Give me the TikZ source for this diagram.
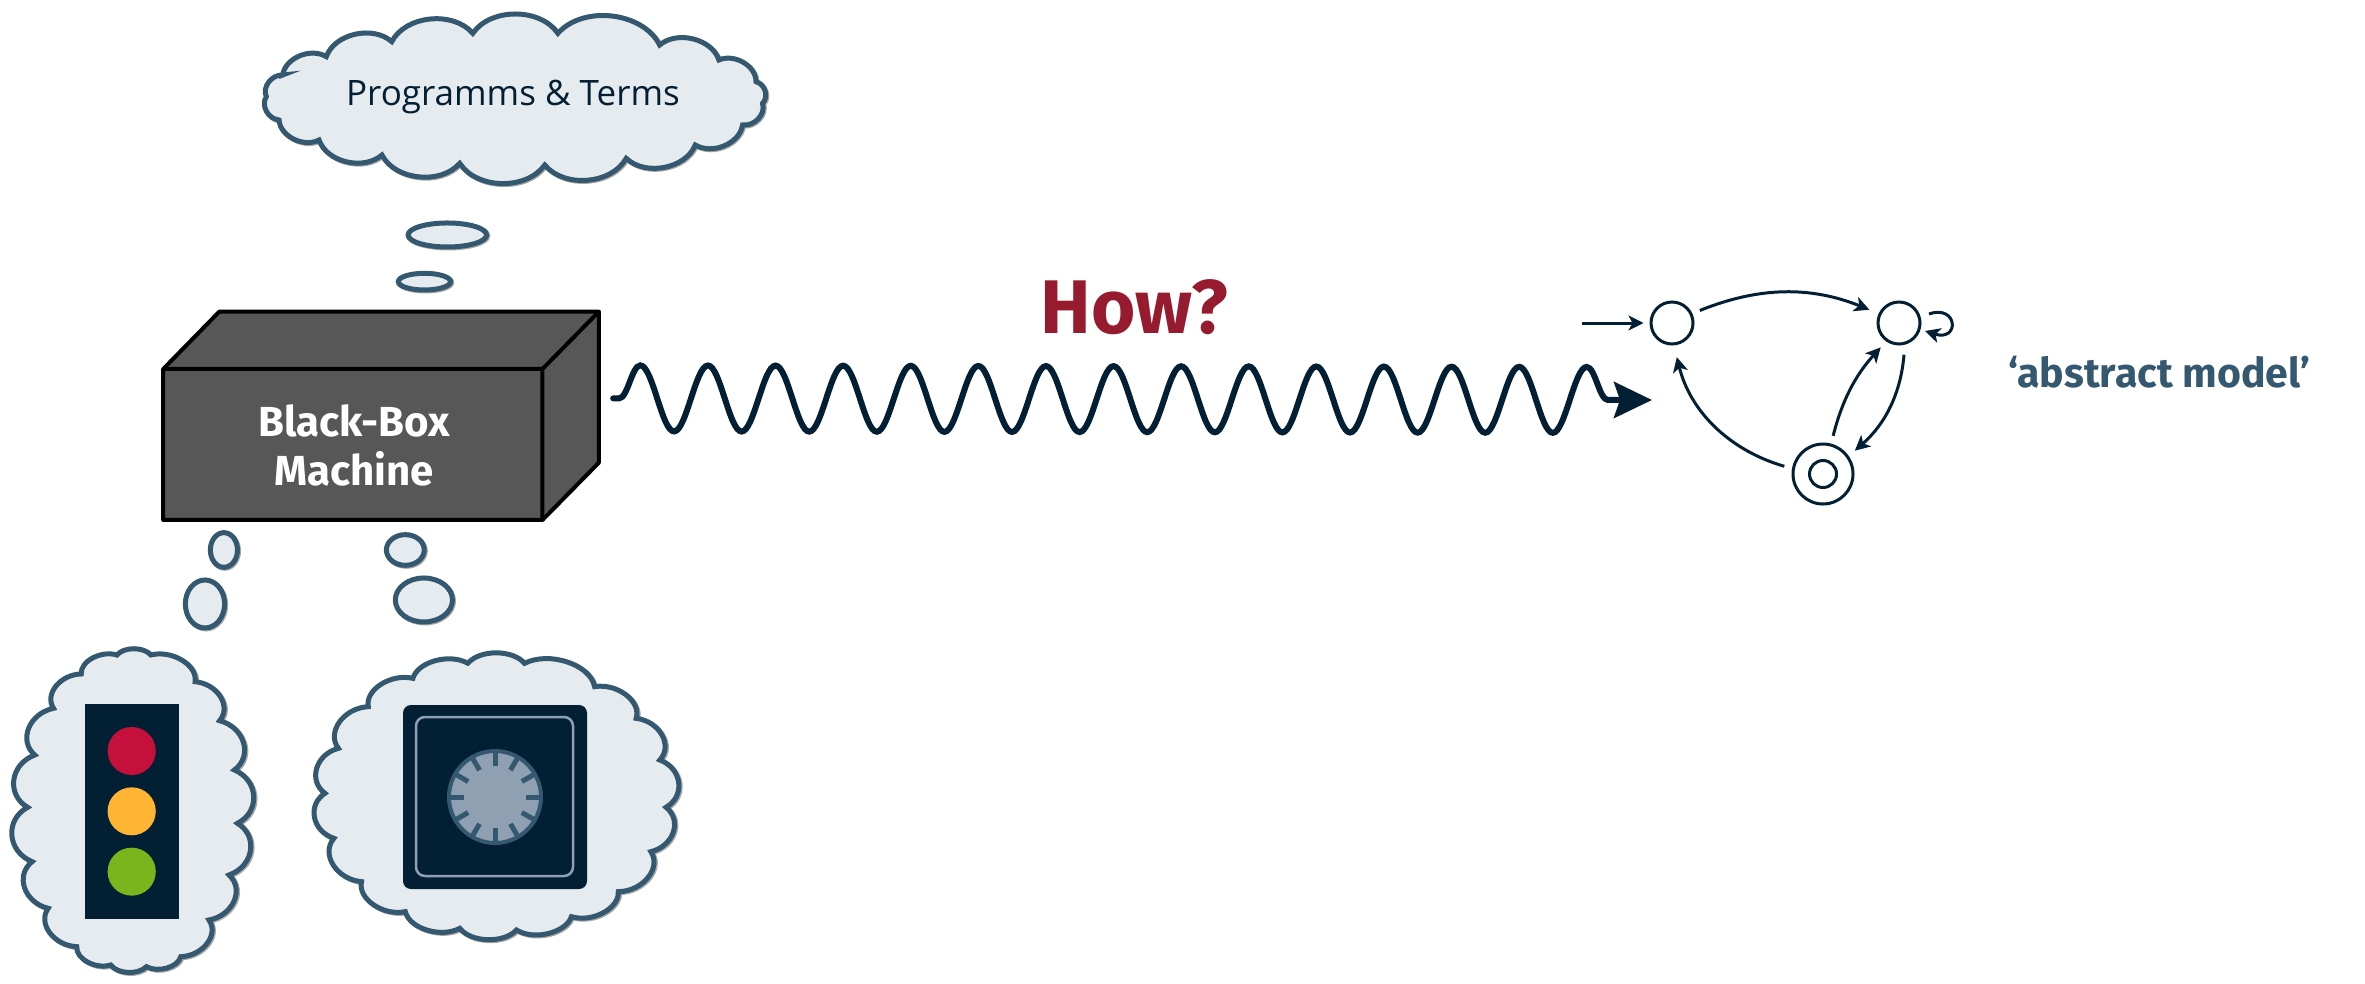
\documentclass[tikz,border=0pt]{standalone}
\usepackage{fontspec}
\setmainfont{Open Sans}
\newfontfamily\boldfam{Fira Sans}
\usetikzlibrary{arrows.meta,decorations.pathmorphing,shapes.geometric,calc}
\definecolor{cfill}{HTML}{E6EBF0}
\definecolor{cline}{HTML}{33586F}
\definecolor{cdark}{HTML}{031F33}
\definecolor{cbox}{HTML}{575757}
\definecolor{cred}{HTML}{C4103A}
\definecolor{corange}{HTML}{FFB433}
\definecolor{cgreen}{HTML}{7AB51D}
\definecolor{cdial}{HTML}{8EA0B2}
\definecolor{chow}{HTML}{971B2F}
\definecolor{cshadow}{HTML}{A8A8A8}
\newcommand{\shadowed}[2]{%
  \begin{scope}[shift={(3,3)}]\fill[cshadow,line width=5pt,draw=cshadow] #2;\end{scope}
  \draw[cloudline,#1] #2;}
\tikzset{
  cloudline/.style={draw=cline,fill=cfill,line width=5pt,line join=miter},
  c/.style={bend left=#1},
  boxline/.style={draw=black,fill=cbox,line width=4pt,line join=round},
  stateN/.style={circle,draw=cdark,line width=3pt,minimum size=42pt,inner sep=0pt},
  autarrow/.style={draw=cdark,line width=3pt,-{Stealth[length=15pt,width=15pt,inset=4pt]}},
  dialtick/.style={draw=cline,line width=5pt},
}
\begin{document}
\begin{tikzpicture}[x=1pt,y=-1pt]
\useasboundingbox (0,0) rectangle (2365,983);
% top cloud
\begin{scope}[shift={(230,0)},xscale=0.3635,yscale=0.3333]
\def\pth{(145,225) to[c=58] (265,170) to[c=58] (445,125) to[c=58] (668,100) to[c=58] (902,100) to[c=58] (1182,135) to[c=58] (1345,180) to[c=58] (1447,245) to[c=58] (1465,310) to[c=58] (1410,375) to[c=58] (1280,435) to[c=58] (1090,475) to[c=58] (866,495) to[c=58] (632,490) to[c=58] (418,465) to[c=58] (245,420) to[c=58] (135,360) to[c=58] (100,290) to[c=58] cycle}
\shadowed{}{\pth}
\shadowed{}{(598,705) ellipse [x radius=108,y radius=36]}
\shadowed{}{(535,845) ellipse [x radius=72,y radius=25]}
\end{scope}
\node[text=cdark,font=\fontsize{35}{35}\selectfont] (prog) at (513,97) {Programms \& Terms};
% bubbles and box
\begin{scope}[shift={(140,290)},xscale=0.3571,yscale=0.3333]
\shadowed{}{(235,780) ellipse [x radius=38,y radius=52]}
\shadowed{}{(182,942) ellipse [x radius=55,y radius=72]}
\shadowed{}{(743,780) ellipse [x radius=53,y radius=46]}
\shadowed{}{(795,930) ellipse [x radius=80,y radius=66]}
\draw[boxline] (65,237) -- (222,65) -- (1285,65) -- (1285,518) -- (1127,690) -- (65,690) -- cycle;
\draw[boxline,fill=none] (65,237) -- (1127,237) -- (1285,65) (1127,237) -- (1127,690);
\coordinate (wstart) at (1325,325);
\end{scope}
\node[text=white,align=center,font=\boldfam\bfseries\fontsize{42}{49}\selectfont] (bb) at (354,445) {Black-Box\\Machine};
% traffic-light cloud
\begin{scope}[shift={(0,600)},xscale=0.4464,yscale=0.3333]
\def\pth{(262,165) to[c=58] (338,165) to[c=58] (437,245) to[c=58] (492,362) to[c=58] (525,510) to[c=58] (532,670) to[c=58] (513,825) to[c=58] (468,960) to[c=58] (405,1070) to[c=58] (328,1100) to[c=58] (248,1095) to[c=58] (172,1040) to[c=58] (108,925) to[c=58] (72,785) to[c=58] (62,622) to[c=58] (78,465) to[c=58] (120,325) to[c=58] (182,222) to[c=58] cycle}
\shadowed{}{\pth}
\fill[cdark] (190,312) rectangle (400,957);
\fill[cred] (295,453) ellipse [x radius=54,y radius=72];
\fill[corange] (295,634) ellipse [x radius=54,y radius=72];
\fill[cgreen] (295,815) ellipse [x radius=54,y radius=72];
\end{scope}
% safe cloud
\begin{scope}[shift={(0,600)},xscale=0.4464,yscale=0.3333]
\def\pth{(1048,190) to[c=58] (1175,190) to[c=58] (1332,260) to[c=58] (1425,355) to[c=58] (1478,480) to[c=58] (1492,622) to[c=58] (1458,755) to[c=58] (1385,875) to[c=58] (1280,950) to[c=58] (1157,990) to[c=58] (1030,985) to[c=58] (908,935) to[c=58] (810,845) to[c=58] (748,715) to[c=58] (728,580) to[c=58] (758,445) to[c=58] (825,320) to[c=58] (925,235) to[c=58] cycle}
\shadowed{}{\pth}
\end{scope}
\fill[cdark,rounded corners=8pt] (403,705) rectangle (587,889);
\draw[draw=cdial,line width=2.5pt,rounded corners=9pt] (416,717) rectangle (573,876);
\draw[draw=cline,fill=cdial,line width=4pt] (495,797) circle [radius=46];
\foreach \a in {0,30,...,330}{\draw[dialtick] ($(495,797)+(\a:31)$) -- ($(495,797)+(\a:46)$);}
% wave
\coordinate (wend) at (1652,400);
\draw[cdark,line width=6pt,line cap=round,-{Stealth[length=38pt,width=36pt,inset=6pt]},decorate,decoration={snake,segment length=67.6pt,amplitude=33pt,pre length=6pt,post length=38pt}] (wstart) -- (wend);
\node[text=chow,font=\boldfam\bfseries\fontsize{76}{76}\selectfont] (how) at (1134,307) {How?};
% automaton
\node[stateN] (q0) at (1672,323) {};
\node[stateN] (q1) at (1899,323) {};
\node[circle,draw=cdark,line width=3pt,minimum size=60pt,inner sep=0pt] (q2) at (1823,474) {};
\node[circle,draw=cdark,line width=3pt,minimum size=27pt,inner sep=0pt] (q2i) at (q2) {};
\coordinate (init) at (1582,323);
\draw[autarrow,shorten >=6pt] (init) -- (q0.west);
\draw[autarrow,shorten <=8pt,shorten >=10pt] (q0.25) to[bend left=22] (q1.155);
\draw[autarrow,shorten <=10pt,shorten >=8pt] (q1.-75) to[bend left=22] (q2.35);
\draw[autarrow,shorten <=8pt,shorten >=8pt] (q2.75) to[bend left=14] (q1.-125);
\draw[autarrow,shorten <=8pt,shorten >=12pt] (q2.170) to[bend left=30] (q0.-85);
\coordinate (ls) at (1929,314);
\coordinate (le) at (1925,331);
\draw[autarrow] (ls) .. controls (1958,304) and (1960,342) .. (le);
\node[text=cline,font=\boldfam\bfseries\fontsize{41}{41}\selectfont] (abs) at (2159,372) {‘abstract model’};
\end{tikzpicture}
\end{document}
